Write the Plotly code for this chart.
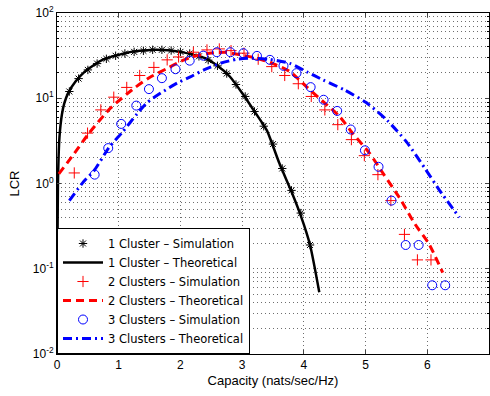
import plotly.graph_objects as go

# 1 cluster
c1_sim_x = [0.2, 0.35, 0.5, 0.65, 0.8, 0.95, 1.1, 1.25, 1.4, 1.55, 1.7, 1.85, 2.0, 2.15,
            2.3, 2.45, 2.6, 2.75, 2.9, 3.05, 3.2, 3.35, 3.5, 3.65, 3.8, 3.95, 4.1]
c1_sim_y = [12, 17, 21.5, 25.5, 29, 31.5, 33.5, 35, 36, 37, 37, 36.3, 35, 33.5,
            31, 28, 24, 19.5, 14.5, 10.5, 7.0, 4.7, 2.9, 1.5, 0.83, 0.45, 0.19]
c1_th_x = [0.004, 0.015, 0.04, 0.08, 0.12, 0.18, 0.3, 0.45, 0.6, 0.75, 0.9, 1.05, 1.2, 1.4,
           1.6, 1.8, 2.0, 2.2, 2.4, 2.6, 2.8, 3.0, 3.2, 3.4, 3.6, 3.8, 3.95, 4.1, 4.25]
c1_th_y = [0.1, 1.0, 3.5, 6.5, 8.8, 11.5, 15.7, 20.5, 24.6, 28.5, 31, 33, 35, 36.3,
           37, 36.5, 35, 32.5, 29.5, 24, 18, 11.5, 7.0, 4.2, 1.75, 0.8, 0.42, 0.19, 0.053]

# 2 clusters
c2_sim_x = [0.28, 0.495, 0.71, 0.92, 1.13, 1.34, 1.57, 1.785, 1.97, 2.21, 2.43, 2.63, 2.82, 3.03,
            3.26, 3.48, 3.69, 3.91, 4.12, 4.34, 4.55, 4.77, 4.98, 5.2, 5.41, 5.63, 5.84, 6.06]
c2_sim_y = [1.33, 3.9, 7.3, 10.3, 13.4, 18.5, 23, 28.2, 30.5, 34.7, 36.9, 37.9, 36.2, 33.8,
            28.7, 23.5, 18.5, 14.8, 10.5, 7.3, 4.9, 3.27, 2.12, 1.27, 0.63, 0.253, 0.127, 0.127]
c2_th_x = [0.03, 0.25, 0.52, 0.87, 1.25, 1.5, 1.79, 2.0, 2.21, 2.5, 2.75, 2.97, 3.2, 3.5,
           3.77, 4.04, 4.3, 4.58, 4.8, 5.06, 5.3, 5.55, 5.8, 6.03, 6.25]
c2_th_y = [1.3, 2.1, 3.9, 7.7, 13.1, 17.5, 22.5, 27, 30.9, 34, 34.5, 32.3, 30, 25.5,
           20.6, 13.7, 9.3, 6.1, 3.8, 2.29, 1.26, 0.68, 0.335, 0.194, 0.09]

# 3 clusters
c3_sim_x = [0.4, 0.61, 0.83, 1.04, 1.285, 1.49, 1.70, 1.92, 2.15, 2.37, 2.59, 2.81, 3.02, 3.24,
            3.45, 3.67, 3.88, 4.11, 4.32, 4.54, 4.76, 4.99, 5.21, 5.42, 5.65, 5.86, 6.08, 6.29]
c3_sim_y = [0.18, 1.27, 2.6, 5.0, 8.2, 12.8, 17.2, 21.9, 27.6, 31.6, 34.7, 34.7, 33.8, 31.4,
            28.2, 24, 19.7, 13.5, 9.6, 7.1, 4.3, 2.45, 1.57, 0.63, 0.19, 0.19, 0.064, 0.064]
c3_th_x = [0.2, 0.44, 0.6, 0.84, 1.06, 1.3, 1.46, 1.68, 1.95, 2.16, 2.38, 2.65, 2.91, 3.15,
           3.45, 3.77, 4.05, 4.31, 4.65, 5.01, 5.35, 5.66, 5.95, 6.19, 6.52]
c3_th_y = [0.63, 1.07, 1.41, 2.63, 4.0, 6.6, 8.9, 11.5, 15.1, 17.8, 21.5, 25.7, 28.7, 29.5,
           28.5, 25.7, 20.4, 16.4, 12.6, 8.9, 5.5, 3.1, 1.55, 0.85, 0.4]

x_ticks = [0, 1, 2, 3, 4, 5, 6, 7]
y_tickvals = [0.01, 0.1, 1, 10, 100]
y_ticktext = ["10<sup>-2</sup>", "10<sup>-1</sup>", "10<sup>0</sup>", "10<sup>1</sup>", "10<sup>2</sup>"]
y_minorvals = [m * d for d in [0.01, 0.1, 1, 10] for m in range(2, 10)]

fig = go.Figure()
fig.add_trace(go.Scatter(x=c1_sim_x, y=c1_sim_y, mode="markers", name="1 Cluster \u2013 Simulation",
                         marker=dict(symbol="asterisk-open", size=7, color="black",
                                     line=dict(width=1, color="black"))))
fig.add_trace(go.Scatter(x=c1_th_x, y=c1_th_y, mode="lines", name="1 Cluster \u2013 Theoretical",
                         line=dict(color="black", width=2.5, shape="spline", smoothing=0.6)))
fig.add_trace(go.Scatter(x=c2_sim_x, y=c2_sim_y, mode="markers", name="2 Clusters \u2013 Simulation",
                         marker=dict(symbol="cross-thin-open", size=8, color="red",
                                     line=dict(width=1, color="red"))))
fig.add_trace(go.Scatter(x=c2_th_x, y=c2_th_y, mode="lines", name="2 Clusters \u2013 Theoretical",
                         line=dict(color="red", width=3, dash="8px,5px", shape="spline", smoothing=0.6)))
fig.add_trace(go.Scatter(x=c3_sim_x, y=c3_sim_y, mode="markers", name="3 Clusters \u2013 Simulation",
                         marker=dict(symbol="circle-open", size=9, color="blue",
                                     line=dict(width=1, color="blue"))))
fig.add_trace(go.Scatter(x=c3_th_x, y=c3_th_y, mode="lines", name="3 Clusters \u2013 Theoretical",
                         line=dict(color="blue", width=3, dash="9px,4px,2px,4px", shape="spline", smoothing=0.6)))

grid = dict(showgrid=True, gridcolor="#6e6e6e", griddash="1px,3px", gridwidth=1)
fig.update_layout(
    width=490, height=396,
    margin=dict(l=57, r=1, t=13, b=42),
    paper_bgcolor="white", plot_bgcolor="white",
    font=dict(family="Liberation Sans, Arial, sans-serif", size=12, color="black"),
    showlegend=True,
    legend=dict(x=0.0, y=0.0, xanchor="left", yanchor="bottom",
                bgcolor="white", bordercolor="black", borderwidth=1,
                font=dict(family="DejaVu Sans, sans-serif", size=11.5), tracegroupgap=0, itemwidth=40),
    xaxis=dict(range=[0, 7], tickvals=x_ticks, ticks="inside", ticklen=4,
               showline=True, linecolor="black", linewidth=1, mirror="ticks",
               zeroline=False, automargin=False,
               title=dict(text="Capacity (nats/sec/Hz)", standoff=4, font=dict(size=13)), **grid),
    yaxis=dict(type="log", range=[-2, 2], tickvals=y_tickvals, ticktext=y_ticktext,
               ticks="inside", ticklen=4, showline=True, linecolor="black", linewidth=1,
               mirror="ticks", zeroline=False, automargin=False,
               minor=dict(tickmode="array", tickvals=y_minorvals, ticks="inside", ticklen=2,
                          tickcolor="black", showgrid=True, gridcolor="#6e6e6e",
                          griddash="1px,3px", gridwidth=1),
               title=dict(text="LCR", standoff=10, font=dict(size=13)), **grid),
)
fig.write_html("out.html", config={"displayModeBar": False},
               post_script="document.body.style.margin='0';")
